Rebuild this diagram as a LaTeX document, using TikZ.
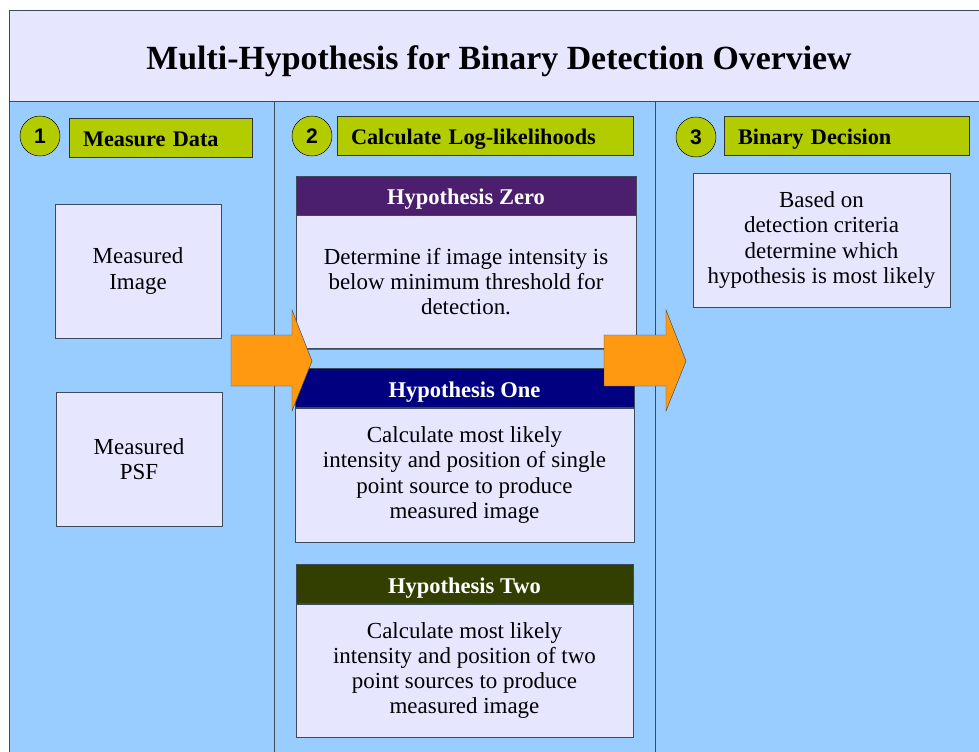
\documentclass[tikz,border=0pt]{standalone}
\usepackage{fontspec}
\setmainfont{Liberation Serif}
\newfontfamily\numfont{Liberation Sans}
\usetikzlibrary{positioning,shadows}

\definecolor{panelblue}{HTML}{99CCFF}
\definecolor{boxlav}{HTML}{E6E6FF}
\definecolor{steplime}{HTML}{B3CC00}
\definecolor{arroworange}{HTML}{FF9912}
\definecolor{hypzero}{HTML}{4B1F6E}
\definecolor{hypone}{HTML}{000080}
\definecolor{hyptwo}{HTML}{333F00}
\definecolor{edgegray}{HTML}{3C4A5A}

\def\pxu{0.03cm}

\tikzset{
  bodytext/.style={font=\fontsize{19.6}{21.4}\selectfont, align=center},
  whitebox/.style={draw=edgegray, fill=boxlav, bodytext, inner sep=0pt,
    general shadow={fill=black!60, shadow xshift=0.04cm, shadow yshift=-0.04cm}},
  stepnum/.style={circle, draw=black, fill=steplime, minimum size=40*\pxu,
    inner sep=0pt, font=\numfont\bfseries\fontsize{18}{20}\selectfont},
  steplabel/.style={draw=black!80, fill=steplime, minimum height=39*\pxu,
    inner xsep=14*\pxu, inner ysep=0pt, align=left, text height=15pt, text depth=0pt,
    font=\bfseries\fontsize{19}{20}\selectfont},
  hyphead/.style={draw=edgegray, text=white, minimum height=39*\pxu,
    inner sep=0pt, text height=16pt, text depth=0pt,
    font=\bfseries\fontsize{19.2}{20}\selectfont},
  blockarrow/.style={fill=arroworange, draw=edgegray, line join=miter}
}

\begin{document}
\begin{tikzpicture}[x=\pxu, y=-\pxu]
  \useasboundingbox (0,0) rectangle (979,751);
  \filldraw[fill=boxlav, draw=edgegray] (9,10) rectangle (995,101);
  \node[font=\bfseries\fontsize{28.9}{32}\selectfont, text height=20.5pt, text depth=0pt] (title) at (499,57) {Multi-Hypothesis for Binary Detection Overview};

  \filldraw[fill=panelblue, draw=edgegray] (9,101) rectangle (274,770);
  \filldraw[fill=panelblue, draw=edgegray] (274,101) rectangle (655,770);
  \filldraw[fill=panelblue, draw=edgegray] (655,101) rectangle (995,770);

  \node[stepnum] (num1) at (40,136) {1};
  \node[steplabel, text width=155*\pxu] (measure) at (160.5,137.5) {Measure Data};
  \node[stepnum] (num2) at (312,136) {2};
  \node[steplabel, text width=268*\pxu] (loglik) at (485,136) {Calculate Log-likelihoods};
  \node[stepnum] (num3) at (696,137) {3};
  \node[steplabel, text width=217*\pxu] (decision) at (846.5,136) {Binary Decision};

  \node[whitebox, minimum width=166*\pxu, minimum height=134*\pxu] (image) at (138,271) {Measured\\Image};
  \node[whitebox, minimum width=166*\pxu, minimum height=134*\pxu] (psf) at (139,459) {Measured\\PSF};

  \node[hyphead, fill=hypzero, minimum width=340*\pxu] (zerohead) at (466,195.5) {Hypothesis Zero};
  \node[whitebox, minimum width=340*\pxu, minimum height=133*\pxu, below=0pt of zerohead] (zerobody)
    {Determine if image intensity is\\below minimum threshold for\\detection.};
  \node[hyphead, fill=hypone, minimum width=339*\pxu] (onehead) at (464.5,388) {Hypothesis One};
  \node[whitebox, minimum width=339*\pxu, minimum height=134*\pxu, below=0pt of onehead] (onebody)
    {Calculate most likely\\intensity and position of single\\point source to produce\\measured image};
  \node[hyphead, fill=hyptwo, minimum width=337*\pxu] (twohead) at (464.5,584) {Hypothesis Two};
  \node[whitebox, minimum width=337*\pxu, minimum height=133*\pxu, below=0pt of twohead] (twobody)
    {Calculate most likely\\intensity and position of two\\point sources to produce\\measured image};

  \node[whitebox, minimum width=257*\pxu, minimum height=134*\pxu] (decide) at (821.5,240)
    {Based on\\detection criteria\\determine which\\hypothesis is most likely};

  \filldraw[blockarrow] (231,335) -- (292,335) -- (292,310) -- (312,361) -- (292,411) -- (292,386) -- (231,386) -- cycle;
  \filldraw[blockarrow] (604,335) -- (666,335) -- (666,310) -- (686,361) -- (666,411) -- (666,386) -- (604,386) -- cycle;
\end{tikzpicture}
\end{document}
